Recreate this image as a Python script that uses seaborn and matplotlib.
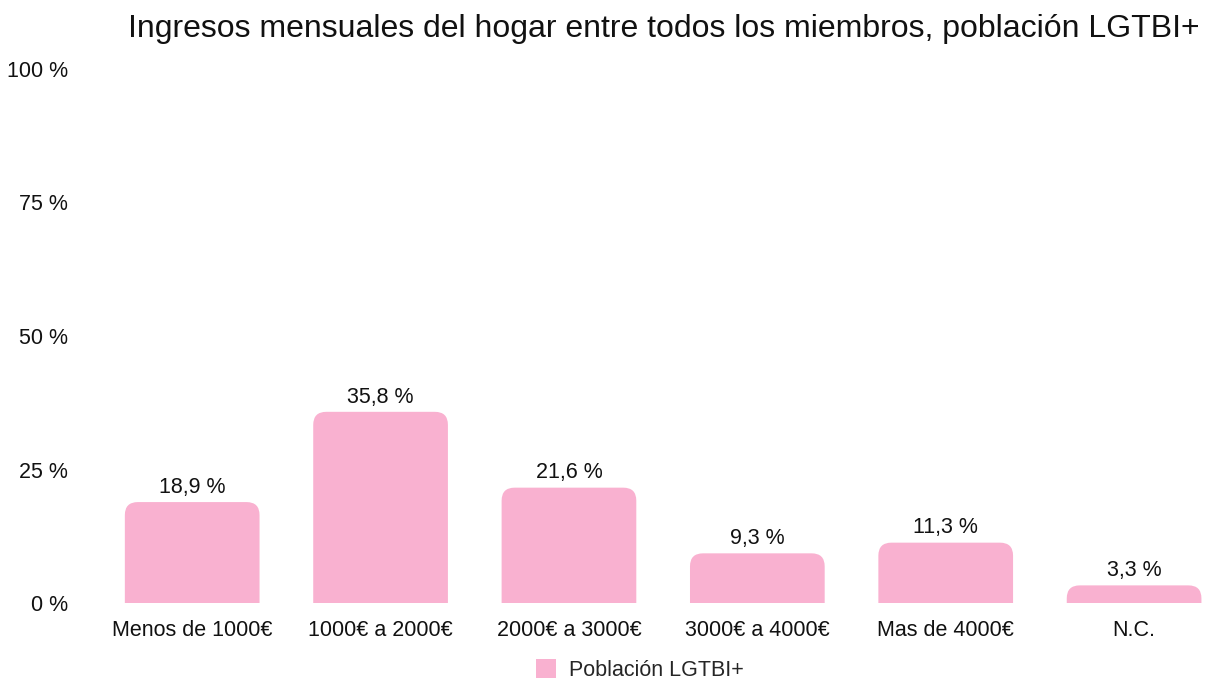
import matplotlib
matplotlib.use("Agg")
import matplotlib.pyplot as plt
import seaborn as sns
import pandas as pd
from matplotlib.patches import FancyBboxPatch, Patch

categorias = ["Menos de 1000€", "1000€ a 2000€", "2000€ a 3000€", "3000€ a 4000€", "Mas de 4000€", "N.C."]
valores = [18.9, 35.8, 21.6, 9.3, 11.3, 3.3]
etiquetas = ["18,9 %", "35,8 %", "21,6 %", "9,3 %", "11,3 %", "3,3 %"]
serie = "Población LGTBI+"
titulo = "Ingresos mensuales del hogar entre todos los miembros, población LGTBI+"
rosa = "#F9B1D0"

df = pd.DataFrame({"categoria": categorias, "valor": valores})

sns.set_theme(style="white")
plt.rcParams["font.family"] = ["Liberation Sans", "DejaVu Sans"]

fig = plt.figure(figsize=(12.07, 6.81), dpi=100)
ax = fig.add_axes([98 / 1207, 78 / 681, 1 - 98 / 1207, (603 - 69) / 681])

sns.barplot(data=df, x="categoria", y="valor", color=rosa, width=0.715, ax=ax, saturation=1)

ax.set_xlim(-0.5, 5.387)
ax.set_ylim(0, 100)

# redondear las esquinas superiores
px_x = ax.get_window_extent().width / (5.387 + 0.5)
px_y = ax.get_window_extent().height / 100
aspecto = px_x / px_y
r = 13 / px_x
for p in list(ax.patches):
    x0, y0, w, h = p.get_x(), p.get_y(), p.get_width(), p.get_height()
    p.remove()
    caja = FancyBboxPatch((x0, y0 - 5), w, h + 5,
                          boxstyle=f"round,pad=0,rounding_size={r}",
                          mutation_aspect=aspecto, facecolor=rosa, edgecolor="none",
                          clip_on=True)
    ax.add_patch(caja)
    caja.set_clip_path(ax.patch)

for i, (v, t) in enumerate(zip(valores, etiquetas)):
    ax.text(i, v + 0.8, t, ha="center", va="bottom", fontsize=15.5, color="#111111")

ax.set_yticks([0, 25, 50, 75, 100])
ax.set_yticklabels(["0 %", "25 %", "50 %", "75 %", "100 %"])
ax.tick_params(axis="y", length=0, pad=21.6, labelsize=15.5, labelcolor="#111111")
ax.tick_params(axis="x", length=0, pad=12, labelsize=15.5, labelcolor="#111111")
ax.set_xlabel("")
ax.set_ylabel("")
sns.despine(ax=ax, left=True, bottom=True)

fig.text(1200 / 1207, 1 - 29 / 681, titulo, ha="right", va="center", fontsize=23, color="#111111")

fig.legend(handles=[Patch(facecolor=rosa, edgecolor="none", label=serie)],
           loc="center", bbox_to_anchor=(640 / 1207, 1 - 670 / 681), frameon=False,
           fontsize=15.5, handlelength=0.95, handleheight=0.95, handletextpad=0.6)

fig.savefig("out.png", dpi=100)
